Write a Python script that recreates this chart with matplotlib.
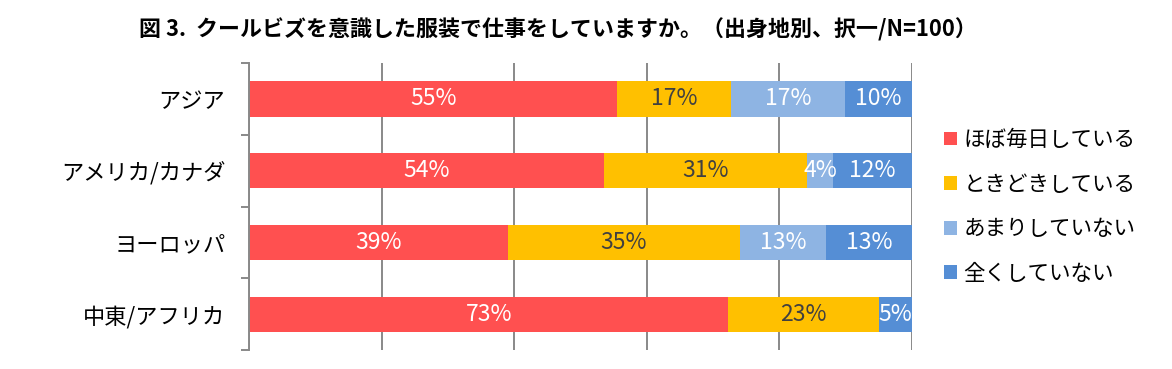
import numpy as np
import matplotlib.pyplot as plt

plt.rcParams['font.family'] = ['Noto Sans CJK JP', 'DejaVu Sans']

# Data (percent, N=100)
regions = ['アジア', 'アメリカ/カナダ', 'ヨーロッパ', '中東/アフリカ']
answers = ['ほぼ毎日している', 'ときどきしている', 'あまりしていない', '全くしていない']
daily = [55, 54, 39, 73]
sometimes = [17, 31, 35, 23]
rarely = [17, 4, 13, 0]
never = [10, 12, 13, 5]

colors = ['#FF5050', '#FFC000', '#8EB4E3', '#558ED5']
text_colors = ['white', '#404040', 'white', 'white']

fig = plt.figure(figsize=(11.72, 3.69), dpi=100)
ax = fig.add_axes([0.2125, 0.0515, 0.5657, 0.7775])

series = np.array([daily, sometimes, rarely, never], dtype=float)
shares = series / series.sum(axis=0) * 100  # 100% stacked
y = np.arange(len(regions))
left = np.zeros(len(regions))

for i in range(len(answers)):
    ax.barh(y, shares[i], left=left, height=0.49, color=colors[i],
            label=answers[i], zorder=3)
    for j in range(len(regions)):
        if series[i, j] > 0:
            ax.text(left[j] + shares[i, j] / 2, y[j], f'{int(series[i, j])}%',
                    ha='center', va='center', fontsize=16.5,
                    color=text_colors[i], zorder=4)
    left += shares[i]

ax.set_xlim(0, 100)
ax.set_ylim(len(regions) - 0.5, -0.5)
ax.set_xticks(np.arange(0, 101, 20))
ax.tick_params(axis='x', length=0, labelbottom=False)
ax.grid(axis='x', color='#898989', linewidth=1.4, zorder=0)

ax.set_yticks(y)
ax.set_yticklabels(regions, fontsize=16)
ax.set_yticks(np.arange(-0.5, len(regions), 1), minor=True)
ax.tick_params(axis='y', which='major', length=0, pad=17)
ax.tick_params(axis='y', which='minor', length=6, width=1.4, color='#898989')

for s in ['top', 'right', 'bottom']:
    ax.spines[s].set_visible(False)
ax.spines['left'].set_color('#898989')
ax.spines['left'].set_linewidth(1.4)
ax.spines['left'].set_zorder(5)

ax.legend(loc='upper left', bbox_to_anchor=(1.035, 0.80), frameon=False,
          fontsize=15.5, handlelength=0.6, handleheight=0.6,
          handletextpad=0.3, labelspacing=1.05, borderaxespad=0)

fig.text(0.476, 0.919, '図 3.  クールビズを意識した服装で仕事をしていますか。（出身地別、択一/N=100）',
         ha='center', va='center', fontsize=15.8, fontweight='bold')

plt.savefig('out.png', dpi=100)
